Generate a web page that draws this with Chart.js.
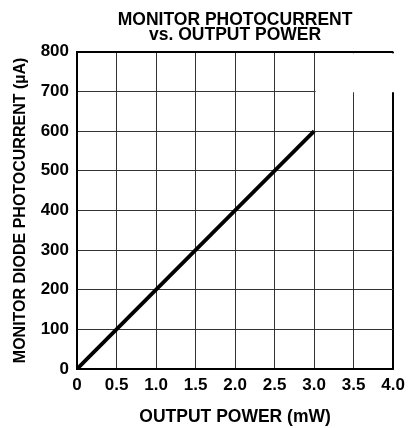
<!DOCTYPE html>
<html>
<head>
<meta charset="utf-8">
<script src="https://cdn.jsdelivr.net/npm/chart.js@4.4.0/dist/chart.umd.min.js"></script>
<style>
  html, body { margin: 0; padding: 0; background: #fff; }
  #wrap { width: 411px; height: 428px; }
</style>
</head>
<body>
<div id="wrap"><canvas id="chartFotocorriente" width="411" height="428"></canvas></div>
<script>
// datos
const potenciaMw = [0, 3.0];
const fotocorrienteUa = [0, 600];
const ejeX = { min: 0, max: 4, paso: 0.5 };
const ejeY = { min: 0, max: 800, paso: 100 };

const fuente = 'Arial, "Liberation Sans", Helvetica, sans-serif';

// tapa blanca en la esquina superior derecha (como en el original)
const tapaBlanca = {
    id: 'tapaBlanca',
    afterDraw(chart) {
        const x = chart.scales.x, y = chart.scales.y, ctx = chart.ctx;
        const x0 = x.getPixelForValue(3.0) + 1.5;
        const x1 = x.getPixelForValue(4.0) + 2;
        const y0 = y.getPixelForValue(800) + 1.5;
        const y1 = y.getPixelForValue(700) + 0.8;
        ctx.save();
        ctx.fillStyle = '#fff';
        ctx.fillRect(x0, y0, x1 - x0, y1 - y0);
        ctx.restore();
    }
};

const ctx = document.getElementById('chartFotocorriente').getContext('2d');
new Chart(ctx, {
    type: 'scatter',
    data: {
        datasets: [{
            data: potenciaMw.map((p, i) => ({ x: p, y: fotocorrienteUa[i] })),
            showLine: true,
            borderColor: '#000',
            borderWidth: 3.8,
            pointRadius: 0,
            borderCapStyle: 'butt'
        }]
    },
    options: {
        responsive: false,
        animation: false,
        layout: { padding: { left: 0, right: 17, top: 0, bottom: 0 } },
        plugins: {
            legend: { display: false },
            tooltip: { enabled: false },
            title: {
                display: true,
                fullSize: false,
                text: ['MONITOR PHOTOCURRENT', 'vs. OUTPUT POWER'],
                color: '#000',
                font: { family: fuente, size: 17.5, weight: 'bold', lineHeight: 0.88 },
                padding: { top: 12, bottom: 9 }
            }
        },
        scales: {
            x: {
                type: 'linear',
                min: ejeX.min, max: ejeX.max,
                afterFit: s => { s.height = 59; },
                ticks: {
                    stepSize: ejeX.paso,
                    color: '#000',
                    padding: 6,
                    maxRotation: 0,
                    font: { family: fuente, size: 17, weight: 'bold' },
                    callback: v => v === 0 ? '0' : v.toFixed(1)
                },
                grid: {
                    drawTicks: false,
                    color: c => (c.tick && c.tick.value === ejeX.max) ? '#000' : '#333',
                    lineWidth: c => (c.tick && c.tick.value === ejeX.max) ? 2 : 1
                },
                border: { color: '#000', width: 2 },
                title: {
                    display: true,
                    text: 'OUTPUT POWER (mW)',
                    color: '#000',
                    font: { family: fuente, size: 17.5, weight: 'bold' },
                    padding: { top: 0, bottom: 0 }
                }
            },
            y: {
                type: 'linear',
                min: ejeY.min, max: ejeY.max,
                afterFit: s => { s.width = 77; },
                ticks: {
                    stepSize: ejeY.paso,
                    color: '#000',
                    padding: 8,
                    font: { family: fuente, size: 17, weight: 'bold' }
                },
                grid: {
                    drawTicks: false,
                    color: c => (c.tick && c.tick.value === ejeY.max) ? '#000' : '#333',
                    lineWidth: c => (c.tick && c.tick.value === ejeY.max) ? 2 : 1
                },
                border: { color: '#000', width: 2 },
                title: {
                    display: true,
                    text: 'MONITOR DIODE PHOTOCURRENT (µA)',
                    color: '#000',
                    font: { family: fuente, size: 16, weight: 'bold' },
                    padding: { top: 11, bottom: 0 }
                }
            }
        }
    },
    plugins: [tapaBlanca]
});
</script>
</body>
</html>
